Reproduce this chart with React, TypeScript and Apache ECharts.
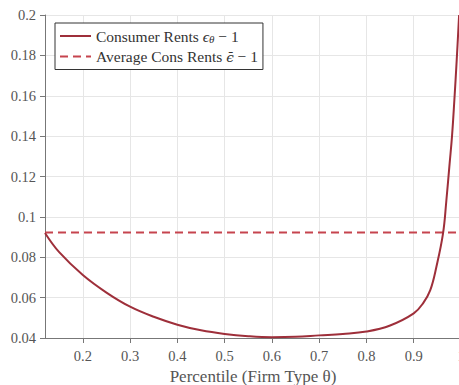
import React, { useEffect, useRef } from "react";
import * as echarts from "echarts";

const thetaX = [0.12, 0.15, 0.2, 0.25, 0.3, 0.35, 0.4, 0.45, 0.5, 0.55, 0.6, 0.65, 0.7, 0.75, 0.8, 0.85, 0.9, 0.92, 0.935, 0.948, 0.962, 0.969, 0.976, 0.981, 0.986, 0.991, 0.996];
const rentsY = [0.092, 0.0825, 0.0712, 0.0625, 0.0555, 0.0505, 0.0466, 0.0438, 0.042, 0.0409, 0.0404, 0.0406, 0.0413, 0.042, 0.0432, 0.0462, 0.0522, 0.0573, 0.0637, 0.0753, 0.0918, 0.108, 0.1266, 0.14, 0.158, 0.178, 0.2];
const avgRents = 0.0922;
const xTicks = [0.2, 0.3, 0.4, 0.5, 0.6, 0.7, 0.8, 0.9, 1];
const seriesNames = ["Consumer Rents", "Average Cons Rents"];

const FONT = "Liberation Serif";

export default function App() {
  const ref = useRef<HTMLDivElement>(null);
  useEffect(() => {
    const chart = echarts.init(ref.current!, null, { renderer: "svg" });
    const curve = thetaX.map((x, i) => [x, rentsY[i]]);
    chart.setOption({
      animation: false,
      backgroundColor: "#ffffff",
      textStyle: { fontFamily: FONT },
      grid: { left: 45, right: -2, top: 15, bottom: 47, containLabel: false, outerBoundsMode: "none" },
      legend: {
        left: 55,
        top: 23,
        orient: "vertical",
        backgroundColor: "#ffffff",
        borderColor: "#333333",
        borderWidth: 1,
        borderRadius: 0,
        padding: [5, 5, 5, 4],
        itemWidth: 31,
        itemHeight: 14,
        itemGap: 4,
        itemStyle: { opacity: 0 },
        data: seriesNames,
        formatter: (name: string) =>
          name === seriesNames[0]
            ? "Consumer Rents {i|ϵ}{s|θ} − 1"
            : "Average Cons Rents {e|ϵ̄} − 1",
        textStyle: {
          fontFamily: FONT,
          fontSize: 15.5,
          color: "#333333",
          rich: {
            i: { fontFamily: FONT, fontSize: 15.5, fontStyle: "italic", color: "#333333" },
            e: { fontFamily: "DejaVu Serif", fontSize: 13.5, fontStyle: "italic", color: "#333333" },
            s: { fontFamily: FONT, fontSize: 11, fontStyle: "italic", color: "#333333", padding: [6, 0, 0, 0] },
          },
        },
      },
      xAxis: {
        type: "value",
        min: 0.12,
        max: 1,
        name: "Percentile (Firm Type θ)",
        nameLocation: "middle",
        nameGap: 24,
        nameTextStyle: { fontFamily: FONT, fontSize: 17, color: "#555555" },
        axisLine: { show: true, onZero: false, lineStyle: { color: "#777777", width: 1 } },
        axisTick: { show: true, length: 5, customValues: xTicks, lineStyle: { color: "#777777" } },
        axisLabel: { customValues: xTicks, fontFamily: FONT, fontSize: 14.5, color: "#555555", margin: 10 },
        splitLine: { show: true, lineStyle: { color: "#e6e6e6", width: 1 } },
      },
      yAxis: {
        type: "value",
        min: 0.04,
        max: 0.2,
        interval: 0.02,
        axisLine: { show: true, lineStyle: { color: "#777777", width: 1 } },
        axisTick: { show: true, length: 5, lineStyle: { color: "#777777" } },
        axisLabel: { fontFamily: FONT, fontSize: 14.5, color: "#555555", margin: 9 },
        splitLine: { show: true, lineStyle: { color: "#e6e6e6", width: 1 } },
      },
      series: [
        {
          name: seriesNames[0],
          type: "line",
          data: curve,
          symbol: "none",
          smooth: 0.4,
          lineStyle: { color: "#9e2f3a", width: 2 },
          itemStyle: { color: "#9e2f3a" },
          z: 3,
        },
        {
          name: seriesNames[1],
          type: "line",
          data: [[0.12, avgRents], [1, avgRents]],
          symbol: "none",
          lineStyle: { color: "#c6444e", width: 2, type: [8, 5] },
          itemStyle: { color: "#c6444e" },
          z: 2,
        },
      ],
    });
    return () => chart.dispose();
  }, []);
  return <div ref={ref} style={{ position: "absolute", left: 0, top: 0, width: 459, height: 385 }} />;
}
